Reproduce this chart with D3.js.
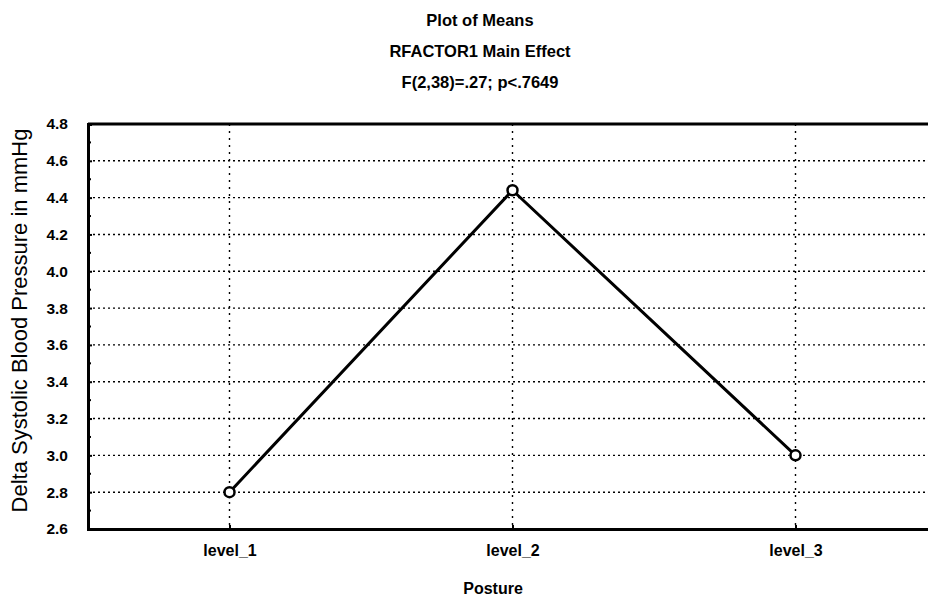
<!DOCTYPE html>
<html>
<head>
<meta charset="utf-8">
<script src="https://cdn.jsdelivr.net/npm/d3@7"></script>
<style>
  body { margin: 0; background: #fff; }
  text { font-family: 'Liberation Sans', Arial, sans-serif; fill: #000; }
</style>
</head>
<body>
<div id="chart"></div>
<script>
const levels = ['level_1', 'level_2', 'level_3']
const means = [2.80, 4.44, 3.00]
const yTicks = [2.6, 2.8, 3.0, 3.2, 3.4, 3.6, 3.8, 4.0, 4.2, 4.4, 4.6, 4.8]
const titles = ['Plot of Means', 'RFACTOR1 Main Effect', 'F(2,38)=.27; p<.7649']
const xTitle = 'Posture'
const yTitle = 'Delta Systolic Blood Pressure in mmHg'

const margin = { top: 124, right: -9, bottom: 71, left: 88 }
const W = 928
const H = 600
const width = W - margin.left - margin.right
const height = H - margin.top - margin.bottom

const svg = d3.select('#chart').append('svg')
  .attr('width', W)
  .attr('height', H)

const g = svg.append('g')
  .attr('transform', 'translate(' + margin.left + ',' + margin.top + ')')

const x = d3.scalePoint()
  .domain(levels)
  .range([0, width])
  .padding(0.5)

const y = d3.scaleLinear()
  .domain([2.6, 4.8])
  .range([height, 0])

// dotted grid
g.append('g')
  .selectAll('line')
  .data(yTicks.slice(1, -1))
  .join('line')
  .attr('x1', 0)
  .attr('x2', width)
  .attr('y1', d => y(d))
  .attr('y2', d => y(d))
  .attr('stroke', '#000')
  .attr('stroke-width', 1.4)
  .attr('stroke-dasharray', '2,3')

g.append('g')
  .selectAll('line')
  .data(levels)
  .join('line')
  .attr('x1', d => x(d))
  .attr('x2', d => x(d))
  .attr('y1', 0)
  .attr('y2', height)
  .attr('stroke', '#000')
  .attr('stroke-width', 1.4)
  .attr('stroke-dasharray', '2,5')

// y axis with minor ticks
const yAxis = g.append('g')
  .call(d3.axisLeft(y).tickValues(yTicks).tickFormat(d3.format('.1f')).tickSize(-4).tickPadding(20))
yAxis.select('.domain').attr('stroke-width', 3)
yAxis.selectAll('.tick line').attr('stroke-width', 2)
yAxis.selectAll('.tick text')
  .style('font-family', "'Liberation Sans', Arial, sans-serif")
  .style('font-size', '15.5px')
  .style('font-weight', 'bold')

g.append('g')
  .selectAll('line')
  .data(d3.range(2.7, 4.8, 0.2))
  .join('line')
  .attr('x1', 0)
  .attr('x2', 3)
  .attr('y1', d => y(d))
  .attr('y2', d => y(d))
  .attr('stroke', '#000')
  .attr('stroke-width', 2)

// x axis
const xAxis = g.append('g')
  .attr('transform', 'translate(0,' + height + ')')
  .call(d3.axisBottom(x).tickSize(-4).tickPadding(16))
xAxis.select('.domain').attr('stroke-width', 3)
xAxis.selectAll('.tick line').attr('stroke-width', 2)
xAxis.selectAll('.tick text')
  .style('font-family', "'Liberation Sans', Arial, sans-serif")
  .style('font-size', '16px')
  .style('font-weight', 'bold')

// top frame
g.append('line')
  .attr('x1', 0)
  .attr('x2', width)
  .attr('y1', 0)
  .attr('y2', 0)
  .attr('stroke', '#000')
  .attr('stroke-width', 3)

// means line
const line = d3.line()
  .x((d, i) => x(levels[i]))
  .y(d => y(d))

g.append('path')
  .datum(means)
  .attr('fill', 'none')
  .attr('stroke', '#000')
  .attr('stroke-width', 3)
  .attr('d', line)

g.append('g')
  .selectAll('circle')
  .data(means)
  .join('circle')
  .attr('cx', (d, i) => x(levels[i]))
  .attr('cy', d => y(d))
  .attr('r', 5)
  .attr('fill', '#fff')
  .attr('stroke', '#000')
  .attr('stroke-width', 2.5)

// titles
svg.append('g')
  .selectAll('text')
  .data(titles)
  .join('text')
  .attr('x', 480)
  .attr('y', (d, i) => 26 + i * 31)
  .attr('text-anchor', 'middle')
  .style('font-size', '16.5px')
  .style('font-weight', 'bold')
  .text(d => d)

svg.append('text')
  .attr('x', 493)
  .attr('y', 594)
  .attr('text-anchor', 'middle')
  .style('font-size', '16px')
  .style('font-weight', 'bold')
  .text(xTitle)

svg.append('text')
  .attr('transform', 'translate(27,' + (margin.top + height / 2 - 6) + ') rotate(-90)')
  .attr('text-anchor', 'middle')
  .style('font-size', '22px')
  .text(yTitle)
</script>
</body>
</html>
